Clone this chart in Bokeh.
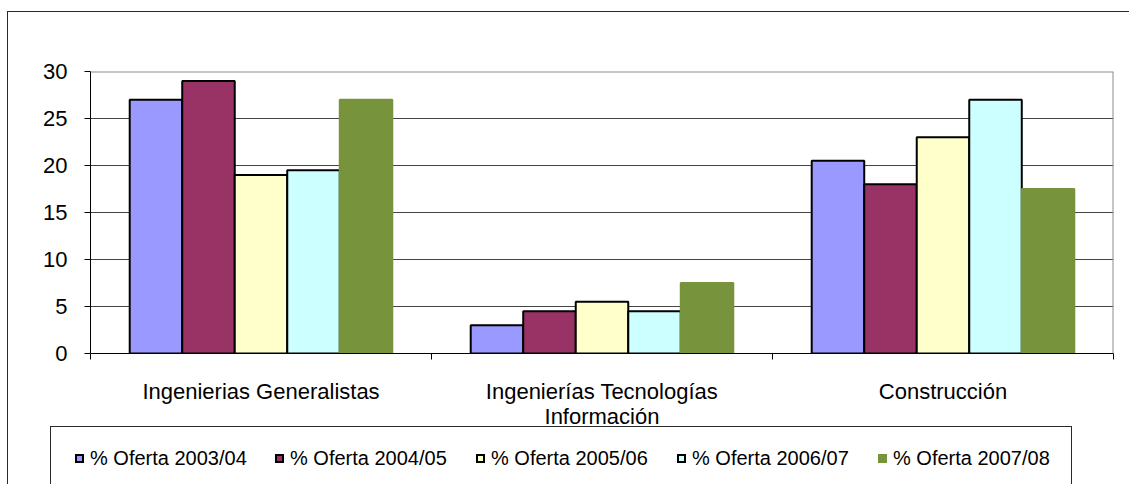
from bokeh.plotting import figure
from bokeh.models import ColumnDataSource, Range1d, FixedTicker, Span, Div
from bokeh.layouts import column
from bokeh.transform import dodge
from bokeh.embed import file_html
from bokeh.resources import INLINE

# ---------------- data ----------------
categories = ["Ingenierias Generalistas", "Ingenierías Tecnologías\nInformación", "Construcción"]
series_names = ["% Oferta 2003/04", "% Oferta 2004/05", "% Oferta 2005/06",
                "% Oferta 2006/07", "% Oferta 2007/08"]
oferta_2003 = [27, 3, 20.5]
oferta_2004 = [29, 4.5, 18]
oferta_2005 = [19, 5.5, 23]
oferta_2006 = [19.5, 4.5, 27]
oferta_2007 = [27, 7.5, 17.5]
y_ticks = [0, 5, 10, 15, 20, 25, 30]

# ---------------- styles ----------------
FONT = "Liberation Sans"
fills = ["#9999FF", "#993366", "#FFFFCC", "#CCFFFF", "#77933C"]
lines = ["black", "black", "black", "black", "#77933C"]
bar_w = 0.154
offsets = [-2 * bar_w, -bar_w, 0, bar_w, 2 * bar_w]
FRAME = "#2a2a2a"

W, H = 1129, 431
ML, MR, MT, MB = 90, 16, 71, 78
LEG_H = 53
legend_x = [75, 275, 476, 677, 878]


def css_lines(segments):
    return {
        "background-color": "white",
        "background-image": ", ".join(["linear-gradient(%s, %s)" % (FRAME, FRAME)] * len(segments)),
        "background-size": ", ".join("%s %s" % (w, h) for _, _, w, h in segments),
        "background-position": ", ".join("%dpx %dpx" % (x, y) for x, y, _, _ in segments),
        "background-repeat": "no-repeat",
        "overflow": "hidden",
    }


centers = [i + 0.5 for i in range(len(categories))]
source = ColumnDataSource(dict(x=centers, s0=oferta_2003, s1=oferta_2004,
                               s2=oferta_2005, s3=oferta_2006, s4=oferta_2007))

p = figure(width=W, height=H, x_range=Range1d(0, len(categories)),
           y_range=Range1d(0, 30), output_backend="svg",
           toolbar_location=None, min_border_left=ML, min_border_right=MR,
           min_border_top=MT, min_border_bottom=MB, margin=0)
p.outline_line_color = None
p.background_fill_color = "white"
p.border_fill_alpha = 0
p.styles = css_lines([(7, 11, "1px", "100%"), (7, 11, "100%", "1px"),
                      (50, 426, "1px", "100%"), (50, 426, "1022px", "1px"),
                      (1071, 426, "1px", "100%")])

for i, name in enumerate(series_names):
    p.vbar(x=dodge("x", offsets[i]), top="s%d" % i, width=bar_w,
           source=source, fill_color=fills[i], line_color=lines[i], line_width=2)

# y axis
ya = p.yaxis[0]
ya.ticker = FixedTicker(ticks=y_ticks)
ya.axis_line_color = "black"
ya.major_tick_line_color = "black"
ya.major_tick_out = 6
ya.major_tick_in = 0
ya.minor_tick_line_color = None
ya.major_label_standoff = 17
ya.major_label_text_font = FONT
ya.major_label_text_font_size = "22px"
ya.major_label_text_color = "black"

p.ygrid.grid_line_color = "#444444"
p.ygrid.ticker = FixedTicker(ticks=y_ticks)
p.xgrid.visible = False

# x axis with boundary ticks
xa = p.xaxis[0]
xa.ticker = FixedTicker(ticks=centers, minor_ticks=list(range(len(categories) + 1)))
xa.major_label_overrides = {c: lab for c, lab in zip(centers, categories)}
xa.axis_line_color = "black"
xa.major_tick_line_color = None
xa.major_tick_out = 0
xa.major_tick_in = 0
xa.minor_tick_line_color = "black"
xa.minor_tick_out = 6
xa.minor_tick_in = 0
xa.major_label_standoff = 19
xa.major_label_text_font = FONT
xa.major_label_text_font_size = "22px"
xa.major_label_text_line_height = 1.0
xa.major_label_text_color = "black"

# plot area top/right borders
p.add_layout(Span(location=30, dimension="width", line_color="#8c8c8c", line_width=2))
p.add_layout(Span(location=3, dimension="height", line_color="#8c8c8c", line_width=2))

# legend row
items = []
for x, name, fc, lc in zip(legend_x, series_names, fills, lines):
    items.append(
        '<div style="position:absolute;left:%dpx;top:15px;height:24px;display:flex;'
        'align-items:center;white-space:nowrap;font-family:\'%s\';font-size:20px;color:black;">'
        '<span style="display:inline-block;box-sizing:border-box;width:9px;height:9px;'
        'border:2px solid %s;background:%s;margin-right:6px;"></span>%s</div>'
        % (x, FONT, lc, fc, name))
legend_html = '<div style="position:relative;width:%dpx;height:%dpx;">%s</div>' % (
    W, LEG_H, "".join(items))
legend_div = Div(text=legend_html, width=W, height=LEG_H, margin=0,
                 styles=css_lines([(7, 0, "1px", "100%"), (50, 0, "1px", "100%"),
                                   (1071, 0, "1px", "100%")]))

layout = column(p, legend_div, spacing=0, margin=0)

open("out.html", "w").write(file_html(layout, INLINE))
